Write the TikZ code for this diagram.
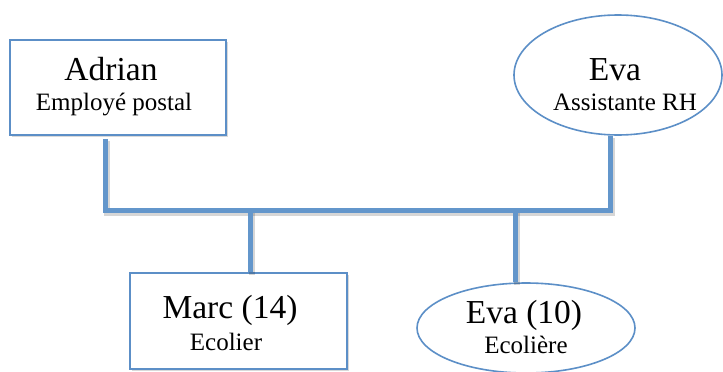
\documentclass[tikz,border=0pt]{standalone}
\usepackage{fontspec}
\setmainfont{Liberation Serif}
\usetikzlibrary{shapes.geometric,shadows}
\definecolor{linkblue}{RGB}{99,150,203}
\definecolor{edgeblue}{RGB}{92,143,199}
\begin{document}
\begin{tikzpicture}[x=1pt,y=-1pt,
  boxshadow/.style={drop shadow={shadow xshift=1.5pt,shadow yshift=-1.5pt,opacity=0.25,fill=black!60}},
  personbox/.style={draw=edgeblue, line width=1.8pt, fill=white, rectangle, inner sep=0pt, boxshadow},
  personoval/.style={draw=edgeblue, line width=1.6pt, fill=white, ellipse, inner sep=0pt},
  nametext/.style={font=\fontsize{33.5}{33.5}\selectfont, anchor=base, inner sep=0pt},
  roletext/.style={font=\fontsize{25}{25}\selectfont, anchor=base, inner sep=0pt},
  link/.style={draw=linkblue, line width=5pt, line join=miter},
  linkshade/.style={draw=black, line width=6pt, opacity=0.16, line join=miter,
    transform canvas={xshift=2pt,yshift=-2.5pt}}]
\useasboundingbox (0,0) rectangle (723,372);
\clip (0,0) rectangle (723,372);

% parents
\node[personbox, minimum width=216pt, minimum height=95pt] (adrian) at (118,87.5) {};
\node[personoval, minimum width=208pt, minimum height=120pt] (eva) at (618,75) {};
% children
\node[personbox, minimum width=217pt, minimum height=96pt] (marc) at (238.5,321) {};
\node[personoval, minimum width=218pt, minimum height=90pt] (kid) at (526,328) {};

% labels
\node[nametext] (adrianName) at (111,80) {Adrian};
\node[roletext] (adrianRole) at (114,110) {Employé postal};
\node[nametext] (evaName) at (615,80) {Eva};
\node[roletext] (evaRole) at (625,110) {Assistante RH};
\node[nametext] (marcName) at (230,318) {Marc (14)};
\node[roletext] (marcRole) at (226,350) {Ecolier};
\node[nametext] (kidName) at (524,323) {Eva (10)};
\node[roletext] (kidRole) at (526,353) {Ecolière};

% family connectors
\coordinate (bar) at (0,210);
\coordinate (aTop) at ([xshift=-13pt,yshift=-3pt]adrian.south);
\coordinate (eTop) at ([xshift=-8pt]eva.south);
\coordinate (mEnd) at ([xshift=11.5pt]marc.north);
\coordinate (kEnd) at ([xshift=-11pt]kid.north);

\foreach \s in {linkshade,link}{
  \draw[\s] (aTop) -- (aTop |- bar) -- (eTop |- bar) -- (eTop);
  \draw[\s] (mEnd |- bar) -- (mEnd);
  \draw[\s] (kEnd |- bar) -- (kEnd);
}
\end{tikzpicture}
\end{document}
